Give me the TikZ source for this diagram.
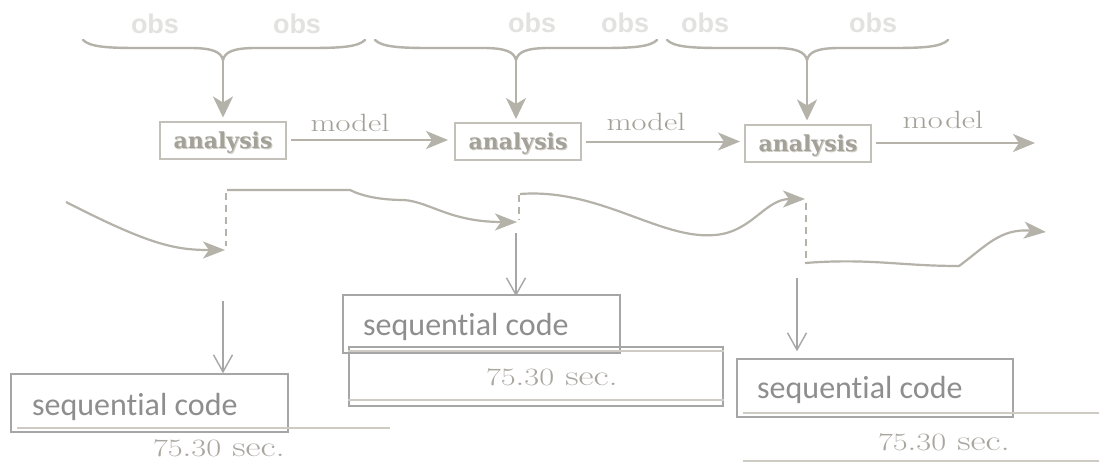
\documentclass[tikz,border=0pt]{standalone}
\usepackage{fontspec}
\newfontfamily\calib{Carlito}[Ligatures=NoCommon]
\newfontfamily\obsfont{Liberation Sans}
\newfontfamily\slabfont{DejaVu Serif}
\usetikzlibrary{arrows.meta}

\definecolor{warm}{HTML}{B5B2AA}
\definecolor{boxwarm}{HTML}{C3C0B9}
\definecolor{obsgray}{HTML}{E2E2E0}
\definecolor{labgray}{HTML}{A3A098}
\definecolor{anagray}{HTML}{A4A199}
\definecolor{anashade}{HTML}{D2CFC8}
\definecolor{seqgray}{HTML}{A6A6A6}
\definecolor{seqtext}{HTML}{8E8E8E}
\definecolor{rulegray}{HTML}{CDCBC4}
\definecolor{timegray}{HTML}{A9A69F}

% bold label with a soft offset shadow
\newcommand\shadedbold[1]{\makebox[0pt][l]{\hspace{1pt}\raisebox{-1pt}{\color{anashade}#1}}#1}

% curly brace gathering observations, pointing down at #2
\newcommand\obsbrace[3]{%
  \draw[bracestyle] (#1,40) .. controls ({#1+7},47) and ({#1+25},48) .. ({#1+55},48)
    -- ({#2-33},48) .. controls ({#2-10},48) and ({#2-2},52) .. (#2,60)
    .. controls ({#2+2},52) and ({#2+10},48) .. ({#2+33},48)
    -- ({#3-55},48) .. controls ({#3-25},48) and ({#3-7},47) .. (#3,40);}

\tikzset{
  bracestyle/.style={draw=warm, line width=2.4pt, line cap=round},
  bigarrow/.style={draw=warm, line width=2.2pt, -{Stealth[length=21pt,width=20pt,inset=6pt]}},
  modelarrow/.style={draw=warm, line width=2pt, -{Stealth[length=22pt,width=18pt,inset=6pt]}},
  flow/.style={draw=warm, line width=2.2pt},
  flowarrow/.style={flow, -{Stealth[length=22pt,width=17pt,inset=6pt]}},
  jump/.style={draw=warm, line width=2.2pt, dash pattern=on 7pt off 5pt},
  anabox/.style={draw=boxwarm, line width=2pt, minimum width=126pt, minimum height=37pt,
    inner sep=0pt, text=anagray, font=\slabfont\fontsize{22}{24}\selectfont\bfseries, text depth=0pt},
  obslabel/.style={text=obsgray, font=\obsfont\fontsize{27}{30}\selectfont\bfseries, anchor=base, inner sep=0pt},
  modellabel/.style={text=labgray, font=\fontsize{25}{28}\selectfont, anchor=base, inner sep=0pt},
  seqbox/.style={draw=seqgray, line width=1.5pt, inner sep=0pt},
  seqlabel/.style={text=seqtext, font=\calib\fontsize{32}{35}\selectfont, anchor=base west, inner sep=0pt},
  seqarrow/.style={draw=seqgray, line width=1.4pt, -{Straight Barb[length=17pt,width=19pt,line width=1.4pt]}},
  timerule/.style={draw=rulegray, line width=1.6pt},
  timelabel/.style={text=timegray, font=\fontsize{28.5}{31}\selectfont, anchor=base, inner sep=0pt}
}

\begin{document}
\begin{tikzpicture}[x=1pt,y=-1pt]
\path[use as bounding box, fill=white] (0,0) rectangle (1099,471);

% observations
\node[obslabel] (o1) at (155,33) {obs};
\node[obslabel] (o2) at (297,33) {obs};
\node[obslabel] (o3) at (532,32) {obs};
\node[obslabel] (o4) at (625,32) {obs};
\node[obslabel] (o5) at (705,32) {obs};
\node[obslabel] (o6) at (873,32) {obs};

\obsbrace{83}{223}{365}
\obsbrace{375}{516}{657}
\obsbrace{667}{807}{948}
\coordinate (t1) at (223,60);
\coordinate (t2) at (516,60);
\coordinate (t3) at (807,60);

% analysis steps
\node[anabox] (a1) at (223,140) {\shadedbold{analysis}};
\node[anabox] (a2) at (518,141.5) {\shadedbold{analysis}};
\node[anabox] (a3) at (808,143) {\shadedbold{analysis}};

\draw[bigarrow, shorten >=3pt] (t1) -- (t1 |- a1.north);
\draw[bigarrow, shorten >=3pt] (t2) -- (t2 |- a2.north);
\draw[bigarrow, shorten >=3pt] (t3) -- (t3 |- a3.north);

% model forecasts
\coordinate (mend) at (1035,143);
\draw[modelarrow, shorten <=4pt, shorten >=6pt] (a1.east) -- (a2.west |- a1.east);
\draw[modelarrow, shorten <=4pt, shorten >=4pt] (a2.east) -- (a3.west |- a2.east);
\draw[modelarrow, shorten <=4pt] (a3.east) -- (mend |- a3.east);
\node[modellabel] (m1) at (350,131) {\scalebox{1.3}[1]{model}};
\node[modellabel] (m2) at (646,130) {\scalebox{1.3}[1]{model}};
\node[modellabel] (m3) at (943,128) {\scalebox{1.3}[1]{mo\hspace{2pt}del}};

% model trajectories with analysis jumps
\coordinate (c0) at (66,202);
\coordinate (c1) at (225,250);
\coordinate (d1) at (227,190);
\coordinate (c2) at (517,222);
\coordinate (d2) at (520,194);
\coordinate (c3) at (805,199);
\coordinate (d3) at (805,263);
\coordinate (c4) at (1046,232);

\draw[flowarrow] (c0) .. controls (150,245) and (175,250) .. (c1);
\draw[jump] (226,193) -- (226,246);
\draw[flowarrow] (d1) -- (350,190) .. controls (362,196) and (380,200) .. (404,200)
   .. controls (430,202) and (450,222) .. (c2);
\draw[jump] (519,195) -- (519,220);
\draw[flowarrow] (d2) .. controls (600,188) and (660,240) .. (715,235)
   .. controls (752,232) and (765,199) .. (c3);
\draw[jump] (806,203) -- (806,262);
\draw[flowarrow] (d3) .. controls (870,258) and (900,266) .. (959,266)
   .. controls (985,247) and (1000,228) .. (c4);

% sequential code timings
\node[seqbox, minimum width=277pt, minimum height=58pt] (s1) at (149.5,403) {};
\node[seqlabel] (s1t) at (32,415) {sequential code};
\node[seqbox, minimum width=277pt, minimum height=58pt] (s2) at (481.5,324) {};
\node[seqlabel] (s2t) at (363,335) {sequential code};
\node[seqbox, minimum width=276pt, minimum height=58pt] (s3) at (875,388) {};
\node[seqlabel] (s3t) at (757,398) {sequential code};

\coordinate (v1) at (223,301);
\coordinate (v2) at (516,233);
\coordinate (v3) at (797,278);
\draw[seqarrow] (v1) -- (v1 |- s1.north);
\draw[seqarrow, shorten >=-2pt] (v2) -- (v2 |- s2.north);
\draw[seqarrow, shorten >=7pt] (v3) -- (v3 |- s3.north);

% timing rules and values
\draw[timerule] (17,428) -- (390,428);
\node[timelabel] (r1) at (219,456) {\scalebox{1.3}[1]{$75.30$ sec.}};

\node[seqbox, minimum width=374pt, minimum height=59pt] (tb2) at (536,376.5) {};
\draw[timerule] (tb2.west |- 0,351) -- (tb2.east |- 0,351);
\draw[timerule] (tb2.west |- 0,400) -- (tb2.east |- 0,400);
\node[timelabel] (r2) at (552,385) {\scalebox{1.3}[1]{$75.30$ sec.}};

\draw[timerule] (743,413) -- (1099,413);
\draw[timerule] (743,461) -- (1099,461);
\node[timelabel] (r3) at (944,450) {\scalebox{1.3}[1]{$75.30$ sec.}};
\end{tikzpicture}
\end{document}
